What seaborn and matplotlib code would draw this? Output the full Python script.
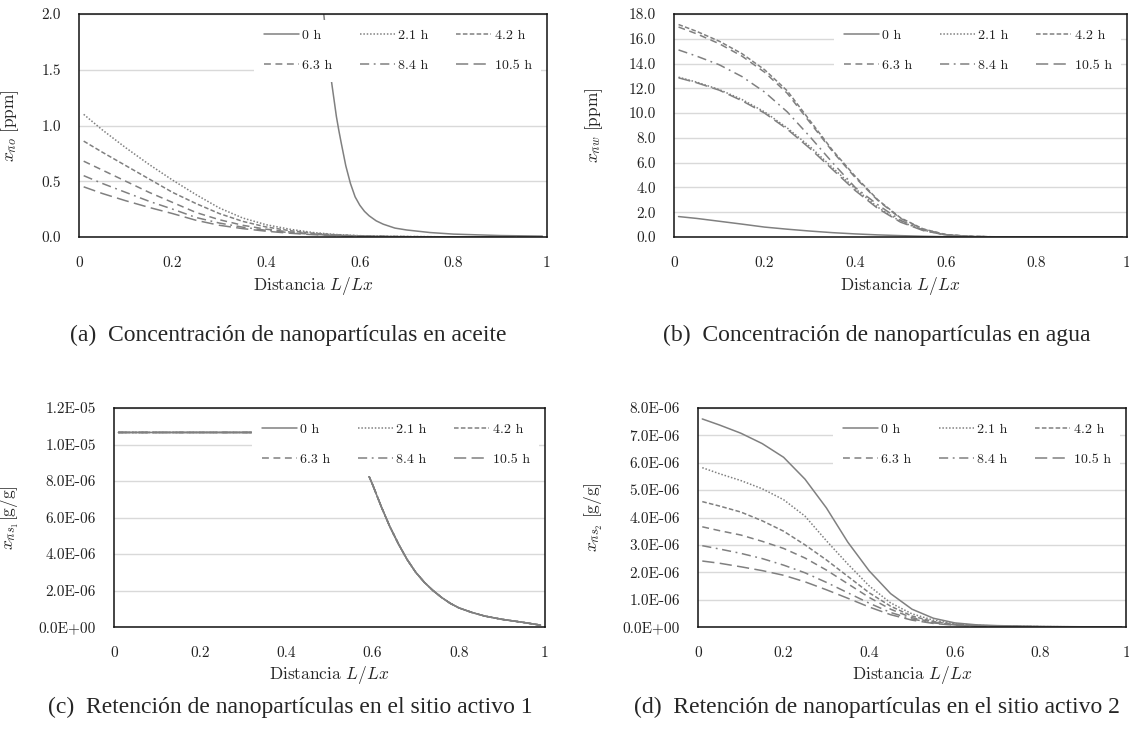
import matplotlib
matplotlib.use("Agg")
import matplotlib.pyplot as plt
import seaborn as sns

# ---------------- data ----------------
TIMES = ["0 h", "2.1 h", "4.2 h", "6.3 h", "8.4 h", "10.5 h"]

X_GRID = [0.01, 0.05, 0.1, 0.15, 0.2, 0.25, 0.3, 0.35, 0.4, 0.45,
          0.5, 0.55, 0.6, 0.65, 0.7, 0.8, 0.9, 0.99]

# (a) oil concentration [ppm]
X_OIL_0H = [0.01, 0.4, 0.5, 0.51, 0.52, 0.525, 0.53, 0.535, 0.54, 0.545,
            0.55, 0.555, 0.56, 0.57, 0.58, 0.59, 0.6, 0.61, 0.62, 0.635,
            0.65, 0.675, 0.7, 0.75, 0.8, 0.9, 0.99]
OIL_0H = [3.2, 3.2, 3.0, 2.6, 2.12, 1.92, 1.72, 1.54, 1.38, 1.23,
          1.08, 0.96, 0.85, 0.64, 0.48, 0.36, 0.285, 0.23, 0.19, 0.145,
          0.115, 0.08, 0.063, 0.04, 0.026, 0.013, 0.008]
OIL_2H = [1.10, 0.96, 0.80, 0.65, 0.51, 0.38, 0.26, 0.17, 0.11, 0.07,
          0.04, 0.022, 0.012, 0.007, 0.004, 0.0015, 0.0006, 0.0003]
OIL_4H = [0.86, 0.76, 0.64, 0.52, 0.40, 0.30, 0.21, 0.14, 0.09, 0.057,
          0.034, 0.019, 0.010, 0.006, 0.0035, 0.0013, 0.0005, 0.0003]
OIL_6H = [0.68, 0.60, 0.50, 0.40, 0.31, 0.22, 0.155, 0.105, 0.07, 0.045,
          0.028, 0.016, 0.009, 0.005, 0.003, 0.0012, 0.0005, 0.0002]
OIL_8H = [0.55, 0.48, 0.40, 0.32, 0.25, 0.175, 0.125, 0.088, 0.06, 0.039,
          0.024, 0.014, 0.008, 0.0045, 0.0025, 0.001, 0.0004, 0.0002]
OIL_10H = [0.45, 0.39, 0.325, 0.265, 0.21, 0.15, 0.105, 0.075, 0.052, 0.034,
           0.021, 0.012, 0.007, 0.004, 0.002, 0.0008, 0.0003, 0.0002]

# (b) water concentration [ppm]
WAT_0H = [1.65, 1.5, 1.27, 1.04, 0.8, 0.63, 0.48, 0.35, 0.25, 0.17,
          0.11, 0.06, 0.025, 0.01, 0.005, 0.002, 0.001, 0.0005]
WAT_2H = [12.9, 12.5, 11.9, 11.1, 10.1, 8.8, 7.3, 5.6, 3.9, 2.4,
          1.25, 0.55, 0.17, 0.05, 0.015, 0.004, 0.002, 0.001]
WAT_4H = [17.15, 16.6, 15.8, 14.8, 13.5, 11.8, 9.4, 7.0, 4.9, 3.0,
          1.55, 0.65, 0.2, 0.06, 0.02, 0.005, 0.002, 0.001]
WAT_6H = [16.95, 16.4, 15.6, 14.6, 13.3, 11.6, 9.25, 6.9, 4.8, 2.95,
          1.5, 0.63, 0.19, 0.06, 0.02, 0.005, 0.002, 0.001]
WAT_8H = [15.1, 14.6, 13.9, 12.95, 11.7, 10.1, 8.1, 6.0, 4.0, 2.6,
          1.35, 0.55, 0.17, 0.05, 0.015, 0.004, 0.002, 0.001]
WAT_10H = [12.85, 12.45, 11.85, 11.0, 10.0, 8.7, 7.15, 5.45, 3.75, 2.3,
           1.2, 0.52, 0.16, 0.05, 0.015, 0.004, 0.002, 0.001]

# (c) retention at active site 1 [g/g] (all times coincide)
X_SITE1 = [0.01, 0.1, 0.2, 0.3, 0.4, 0.5, 0.52, 0.54, 0.56, 0.58,
           0.6, 0.62, 0.64, 0.66, 0.68, 0.7, 0.72, 0.74, 0.76, 0.78,
           0.8, 0.83, 0.86, 0.9, 0.95, 0.99]
SITE1_ALL = [1.066e-05, 1.066e-05, 1.066e-05, 1.066e-05, 1.066e-05, 1.066e-05,
             1.06e-05, 1.035e-05, 9.9e-06, 8.9e-06, 7.8e-06, 6.6e-06, 5.5e-06,
             4.55e-06, 3.7e-06, 3.0e-06, 2.45e-06, 2.0e-06, 1.62e-06, 1.3e-06,
             1.05e-06, 8.0e-07, 6.0e-07, 4.2e-07, 2.5e-07, 1.0e-07]

# (d) retention at active site 2 [g/g]
S2_0H = [7.6e-06, 7.38e-06, 7.08e-06, 6.7e-06, 6.2e-06, 5.4e-06, 4.35e-06, 3.1e-06,
         2.05e-06, 1.22e-06, 6.5e-07, 3.2e-07, 1.5e-07, 8e-08, 5e-08, 2e-08, 8e-09, 4e-09]
S2_2H = [5.82e-06, 5.6e-06, 5.35e-06, 5.05e-06, 4.65e-06, 4.05e-06, 3.15e-06, 2.3e-06,
         1.5e-06, 8.8e-07, 4.8e-07, 2.5e-07, 1.2e-07, 6e-08, 3.5e-08, 1.5e-08, 6e-09, 3e-09]
S2_4H = [4.58e-06, 4.42e-06, 4.2e-06, 3.88e-06, 3.5e-06, 3.0e-06, 2.45e-06, 1.85e-06,
         1.25e-06, 7.6e-07, 4.0e-07, 2.0e-07, 1.0e-07, 5e-08, 3e-08, 1.2e-08, 5e-09, 2e-09]
S2_6H = [3.66e-06, 3.52e-06, 3.36e-06, 3.13e-06, 2.87e-06, 2.52e-06, 2.08e-06, 1.58e-06,
         1.08e-06, 6.5e-07, 3.4e-07, 1.7e-07, 8.5e-08, 4.5e-08, 2.5e-08, 1e-08, 4e-09, 2e-09]
S2_8H = [2.97e-06, 2.85e-06, 2.69e-06, 2.5e-06, 2.26e-06, 1.98e-06, 1.63e-06, 1.25e-06,
         8.7e-07, 5.3e-07, 2.9e-07, 1.5e-07, 7.5e-08, 4e-08, 2.2e-08, 9e-09, 4e-09, 2e-09]
S2_10H = [2.41e-06, 2.33e-06, 2.2e-06, 2.06e-06, 1.89e-06, 1.65e-06, 1.36e-06, 1.05e-06,
          7.3e-07, 4.5e-07, 2.5e-07, 1.3e-07, 6.5e-08, 3.5e-08, 2e-08, 8e-09, 3e-09, 2e-09]

X_TICKS = [0, 0.2, 0.4, 0.6, 0.8, 1.0]
X_TICKLABELS = ["0", "0.2", "0.4", "0.6", "0.8", "1"]
YT_A = [0.0, 0.5, 1.0, 1.5, 2.0]
YL_A = ["0.0", "0.5", "1.0", "1.5", "2.0"]
YT_B = [0, 2, 4, 6, 8, 10, 12, 14, 16, 18]
YL_B = ["0.0", "2.0", "4.0", "6.0", "8.0", "10.0", "12.0", "14.0", "16.0", "18.0"]
YT_C = [0, 2e-06, 4e-06, 6e-06, 8e-06, 1e-05, 1.2e-05]
YL_C = ["0.0E+00", "2.0E-06", "4.0E-06", "6.0E-06", "8.0E-06", "1.0E-05", "1.2E-05"]
YT_D = [0, 1e-06, 2e-06, 3e-06, 4e-06, 5e-06, 6e-06, 7e-06, 8e-06]
YL_D = ["0.0E+00", "1.0E-06", "2.0E-06", "3.0E-06", "4.0E-06", "5.0E-06",
        "6.0E-06", "7.0E-06", "8.0E-06"]

CAPTIONS = ["(a)  Concentración de nanopartículas en aceite",
            "(b)  Concentración de nanopartículas en agua",
            "(c)  Retención de nanopartículas en el sitio activo 1",
            "(d)  Retención de nanopartículas en el sitio activo 2"]
YLABELS = [r"$x_{\bar{n}o}\ [\mathrm{ppm}]$",
           r"$x_{\bar{n}w}\ [\mathrm{ppm}]$",
           r"$x_{\bar{n}s_1}[\mathrm{g/g}]$",
           r"$x_{\bar{n}s_2}\ [\mathrm{g/g}]$"]
XLABEL = r"Distancia $L/Lx$"

# ---------------- style ----------------
sns.set_theme(style="white")
plt.rcParams["font.family"] = ["cmr10", "DejaVu Serif"]
plt.rcParams["mathtext.fontset"] = "cm"
plt.rcParams["axes.formatter.use_mathtext"] = True
plt.rcParams["axes.unicode_minus"] = False

LINE_COLOR = "#808080"
STYLES = ["-", (0, (1, 1.2)), (0, (3, 1.5)), (0, (4.5, 3)),
          (0, (6, 3, 1.2, 3)), (0, (8, 3.5))]

fig = plt.figure(figsize=(11.29, 7.42), dpi=100)
W, H = 1129, 742


def px_axes(left, right, top, bottom):
    return fig.add_axes([left / W, 1 - bottom / H, (right - left) / W, (bottom - top) / H])


ax_a = px_axes(79, 547, 14, 237)
ax_b = px_axes(674, 1127, 14, 237)
ax_c = px_axes(114, 545, 408, 627)
ax_d = px_axes(698, 1126, 408, 627)


def draw_series(ax, xs_list, ys_list):
    for label, xs, ys, ls in zip(TIMES, xs_list, ys_list, STYLES):
        sns.lineplot(x=xs, y=ys, ax=ax, color=LINE_COLOR, linestyle=ls,
                     linewidth=1.1, label=label, legend=False, sort=False,
                     estimator=None, zorder=3)


draw_series(ax_a, [X_OIL_0H] + [X_GRID] * 5,
            [OIL_0H, OIL_2H, OIL_4H, OIL_6H, OIL_8H, OIL_10H])
draw_series(ax_b, [X_GRID] * 6,
            [WAT_0H, WAT_2H, WAT_4H, WAT_6H, WAT_8H, WAT_10H])
draw_series(ax_c, [X_SITE1] * 6, [SITE1_ALL] * 6)
draw_series(ax_d, [X_GRID] * 6,
            [S2_0H, S2_2H, S2_4H, S2_6H, S2_8H, S2_10H])

setup = [
    (ax_a, YT_A, YL_A, -0.124, 0),
    (ax_b, YT_B, YL_B, -0.152, 1),
    (ax_c, YT_C, YL_C, -0.216, 2),
    (ax_d, YT_D, YL_D, -0.217, 3),
]

for ax, yt, yl, ylx, i in setup:
    ax.set_xlim(0, 1)
    ax.set_ylim(yt[0], yt[-1])
    ax.set_xticks(X_TICKS)
    ax.set_xticklabels(X_TICKLABELS)
    ax.set_yticks(yt)
    ax.set_yticklabels(yl)
    ax.tick_params(axis="both", length=0, labelsize=11, colors="#222222")
    ax.tick_params(axis="x", pad=14)
    ax.tick_params(axis="y", pad=13)
    ax.yaxis.grid(True, color="#d9d9d9", linewidth=1.0, zorder=0)
    ax.xaxis.grid(False)
    ax.set_axisbelow(True)
    for sp in ax.spines.values():
        sp.set_visible(True)
        sp.set_color("#111111")
        sp.set_linewidth(1.1)
        sp.set_zorder(6)
    ax.set_ylabel(YLABELS[i], fontsize=12.5)
    ax.yaxis.set_label_coords(ylx, 0.5)
    ax.set_xlabel(XLABEL, fontsize=12.5)
    ax.xaxis.set_label_coords(0.5, -0.17)

    handles, labels = ax.get_legend_handles_labels()
    order = [0, 3, 1, 4, 2, 5]
    leg = ax.legend([handles[k] for k in order], [labels[k] for k in order],
                    loc="upper right", ncol=3, fontsize=10,
                    frameon=True, fancybox=False, framealpha=1.0,
                    facecolor="white", edgecolor="none",
                    handlelength=2.5, handletextpad=0.25, columnspacing=2.0,
                    labelspacing=1.25, borderpad=0.7, borderaxespad=0.4)
    leg.set_zorder(5)
    for t in leg.get_texts():
        t.set_color("#222222")

cap_font = {"family": ["Liberation Serif", "DejaVu Serif"], "size": 17}
fig.text(288 / W, 1 - 335 / H, CAPTIONS[0], ha="center", va="center", fontdict=cap_font)
fig.text(877 / W, 1 - 335 / H, CAPTIONS[1], ha="center", va="center", fontdict=cap_font)
fig.text(290 / W, 1 - 707 / H, CAPTIONS[2], ha="center", va="center", fontdict=cap_font)
fig.text(877 / W, 1 - 707 / H, CAPTIONS[3], ha="center", va="center", fontdict=cap_font)

fig.savefig("out.png", dpi=100, facecolor="white")
